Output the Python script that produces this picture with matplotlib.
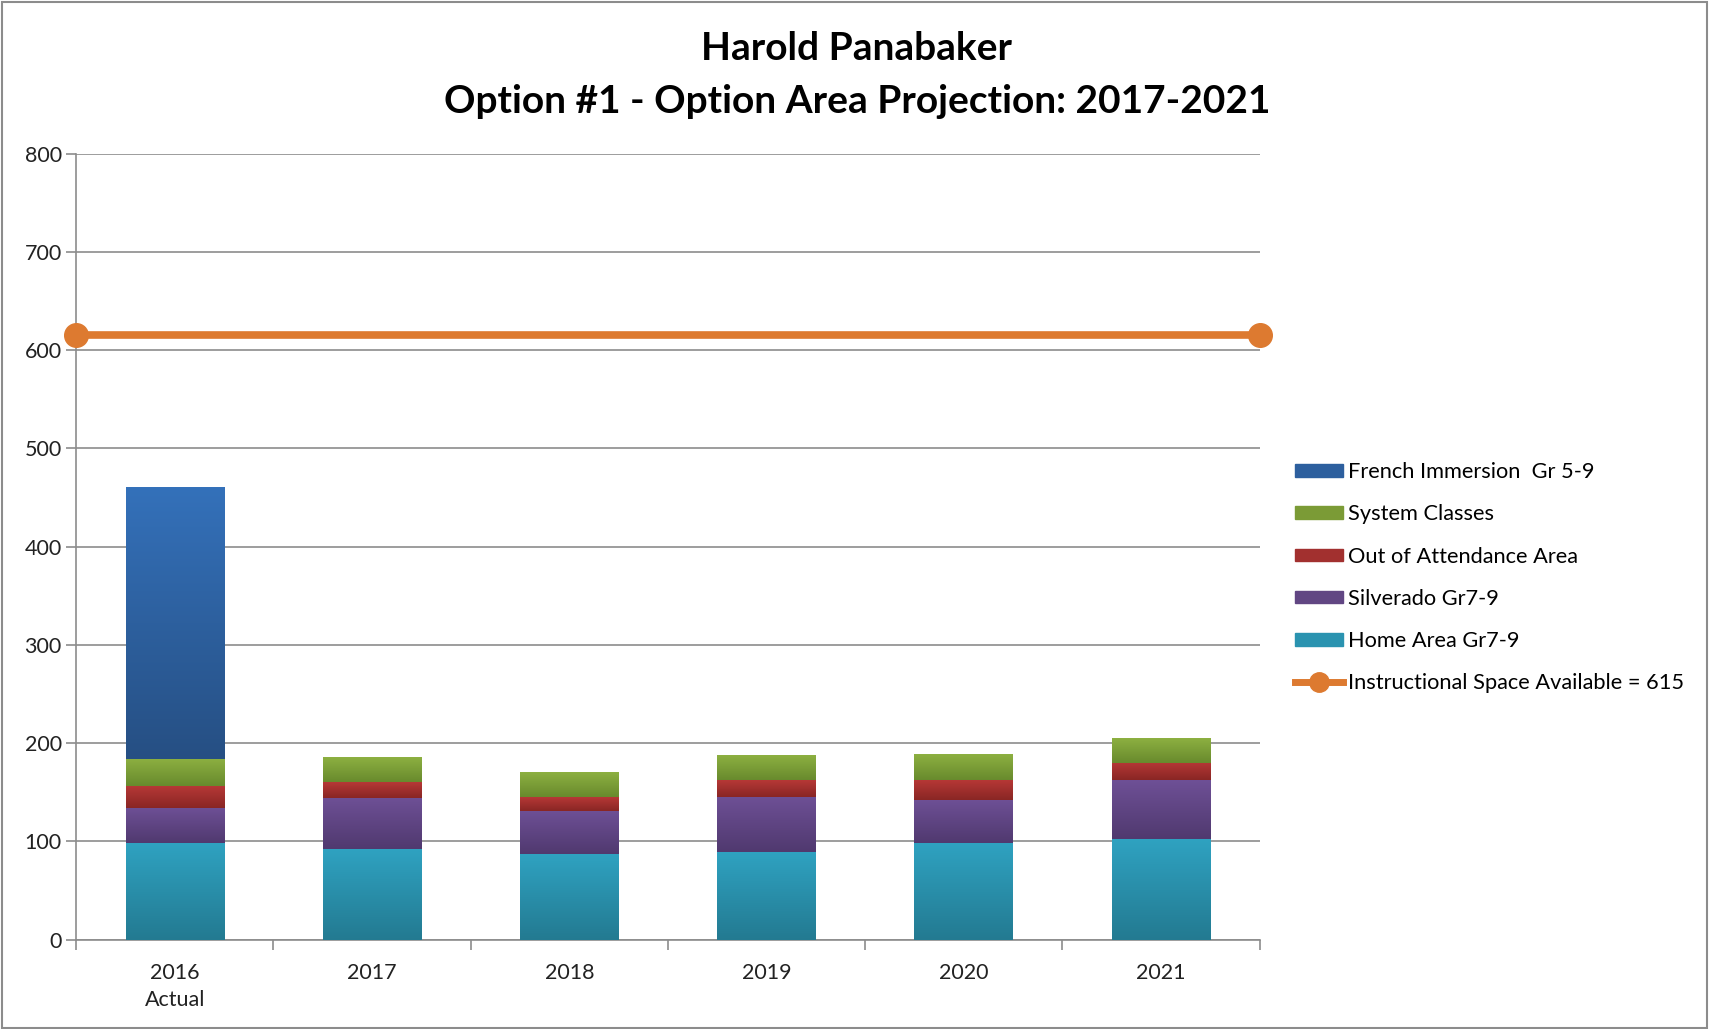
import numpy as np
import matplotlib.pyplot as plt
from matplotlib.patches import Rectangle
from matplotlib.lines import Line2D
from matplotlib.colors import LinearSegmentedColormap

plt.rcParams['font.family'] = ['Lato', 'DejaVu Sans']

# data
years = ['2016\nActual', '2017', '2018', '2019', '2020', '2021']
home_area = [98, 92, 87, 89, 98, 102]
silverado = [36, 52, 44, 56, 44, 60]
out_of_area = [22, 16, 14, 17, 20, 18]
system_classes = [28, 25, 25, 25, 26, 25]
french_imm = [276, 0, 0, 0, 0, 0]
capacity = 615

# name, values, legend colour, gradient (top, bottom)
series = [
    ('Home Area Gr7-9', home_area, '#2A93B0', ('#2FA2C1', '#237A91')),
    ('Silverado Gr7-9', silverado, '#614683', ('#6E5096', '#50396F')),
    ('Out of Attendance Area', out_of_area, '#A2302F', ('#B63836', '#892624')),
    ('System Classes', system_classes, '#7B9B36', ('#8DB041', '#688A2D')),
    ('French Immersion  Gr 5-9', french_imm, '#2D5F9E', ('#3471BA', '#264F83')),
]

fig = plt.figure(figsize=(17.1, 10.29), dpi=100)
ax = fig.add_axes([0.0446, 0.0869, 0.692, 0.7637])

x = np.arange(len(years))
bottom = np.zeros(len(years))
grad = np.linspace(0, 1, 256).reshape(-1, 1)
for name, vals, col, (c_top, c_bot) in series:
    vals = np.array(vals, dtype=float)
    bars = ax.bar(x, vals, width=0.5, bottom=bottom, color=col, edgecolor='none', zorder=3)
    cmap = LinearSegmentedColormap.from_list(name, [c_bot, c_top])
    # shade each segment light at the top, dark at the bottom
    for r in bars:
        if r.get_height() <= 0:
            continue
        ax.imshow(grad, cmap=cmap, origin='lower', aspect='auto', zorder=3.5,
                  extent=(r.get_x(), r.get_x() + r.get_width(), r.get_y(), r.get_y() + r.get_height()))
    bottom += vals

ax.plot([-0.5, len(years) - 0.5], [capacity, capacity], color='#DD7A30', lw=5.5,
        marker='o', ms=17, clip_on=False, zorder=5)

ax.set_xlim(-0.5, len(years) - 0.5)
ax.set_ylim(0, 800)
ax.set_yticks(range(0, 801, 100))
ax.yaxis.grid(True, color='#8C8C8C', lw=1.2)
ax.set_axisbelow(True)
ax.set_xticks(x)
ax.set_xticklabels(years, linespacing=1.45)
ax.set_xticks(np.arange(-0.5, len(years)), minor=True)
ax.tick_params(axis='x', which='major', length=0, labelsize=15.5, pad=17, colors='#222222')
ax.tick_params(axis='x', which='minor', length=7, color='#8C8C8C', width=1.2)
ax.tick_params(axis='y', length=7, color='#8C8C8C', width=1.2, labelsize=15.5, colors='#222222')
for s in ['top', 'right']:
    ax.spines[s].set_visible(False)
for s in ['left', 'bottom']:
    ax.spines[s].set_color('#8C8C8C')
    ax.spines[s].set_linewidth(1.2)

fig.text(0.501, 0.953, 'Harold Panabaker', ha='center', va='center',
         fontsize=28, fontweight='bold')
fig.text(0.501, 0.901, 'Option #1 - Option Area Projection: 2017-2021', ha='center',
         va='center', fontsize=28, fontweight='bold')

order = ['French Immersion  Gr 5-9', 'System Classes', 'Out of Attendance Area',
         'Silverado Gr7-9', 'Home Area Gr7-9']
colmap = {n: c for n, v, c, g in series}
leg_handles = [Rectangle((0, 0), 1, 1, color=colmap[n]) for n in order]
leg_handles.append(Line2D([], [], color='#DD7A30', lw=5, marker='o', ms=14))
labels = order + ['Instructional Space Available = %d' % capacity]
fig.legend(leg_handles, labels, loc='upper left', bbox_to_anchor=(0.746, 0.57),
           frameon=False, fontsize=15.7, handlelength=2.2, handleheight=0.5,
           handletextpad=0.2, labelspacing=1.02)

fig.patches.append(Rectangle((0.001, 0.001), 0.997, 0.997, transform=fig.transFigure,
                             fill=False, edgecolor='#8C8C8C', lw=1.5))

fig.savefig('out.png', dpi=100, facecolor='white')
